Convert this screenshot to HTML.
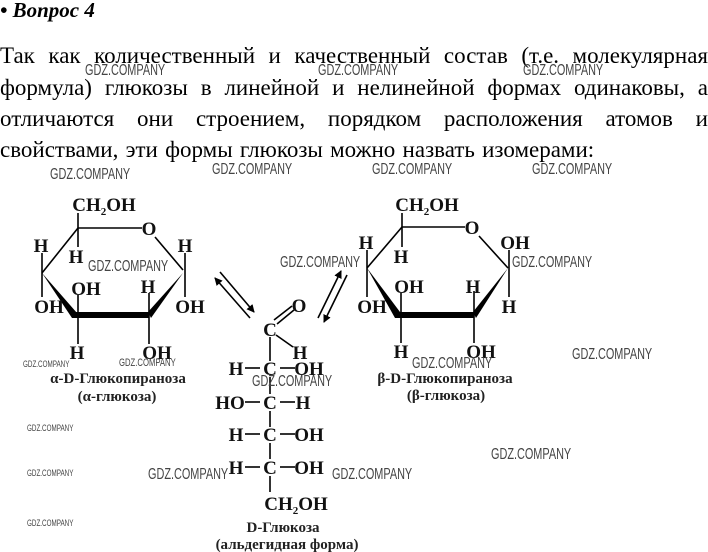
<!DOCTYPE html>
<html><head><meta charset="utf-8"><style>
html,body{margin:0;padding:0;background:#fff;}
body{width:708px;height:552px;overflow:hidden;position:relative;}
svg{position:absolute;left:0;top:0;}
.p{position:absolute;left:0;width:708px;font-family:"Liberation Serif",serif;font-size:23px;line-height:26px;text-align:justify;text-align-last:justify;white-space:nowrap;color:#000;}
.c{font-family:"Liberation Serif",serif;font-size:19px;font-weight:bold;fill:#111;text-anchor:middle;}
.s{font-size:11px;}
.l{font-family:"Liberation Serif",serif;font-size:15px;font-weight:bold;fill:#222;text-anchor:middle;}
.w{position:absolute;font-family:"Liberation Sans",sans-serif;font-size:16px;color:#444;transform:scaleX(0.68);transform-origin:0 0;white-space:nowrap;line-height:16px;}
.wt{position:absolute;font-family:"Liberation Sans",sans-serif;font-size:9px;color:#444;transform:scaleX(0.7);transform-origin:0 0;white-space:nowrap;line-height:9px;}
line,path{stroke:#000;stroke-width:1.6;fill:none;}
</style></head><body>
<div style="position:absolute;left:0;top:-2px;font-family:'Liberation Serif',serif;font-size:21px;font-weight:bold;font-style:italic;">• Вопрос 4</div>
<div class="p" style="top:43px">Так как количественный и качественный состав (т.е. молекулярная</div>
<div class="p" style="top:75px">формула) глюкозы в линейной и нелинейной формах одинаковы, а</div>
<div class="p" style="top:106px">отличаются они строением, порядком расположения атомов и</div>
<div class="p" style="top:137px;text-align:left;text-align-last:left;word-spacing:1.5px">свойствами, эти формы глюкозы можно назвать изомерами:</div>
<svg width="708" height="552" viewBox="0 0 708 552">
<defs>
<marker id="ah" markerWidth="8" markerHeight="8" refX="7" refY="4" orient="auto" markerUnits="userSpaceOnUse"><path d="M0,0 L8,4 L0,8 Z" style="fill:#000;stroke:none"/></marker>
</defs>

<!-- left ring -->
<text class="c" x="104" y="211">CH<tspan class="s" dy="4">2</tspan><tspan dy="-4">OH</tspan></text>
<line x1="78" y1="213" x2="78" y2="247"/>
<line x1="78" y1="228" x2="142" y2="228"/>
<text class="c" x="149" y="235">O</text>
<line x1="155" y1="237" x2="183" y2="270"/>
<line x1="78" y1="228" x2="42" y2="273"/>
<line x1="42" y1="253" x2="42" y2="297"/>
<line x1="185" y1="253" x2="185" y2="297"/>
<polygon points="42,273 77,313 77,318 72,318" fill="#000"/>
<rect x="75" y="312" width="74" height="6" fill="#000"/>
<polygon points="148,312 183,273 151,318" fill="#000"/>
<line x1="78" y1="295" x2="78" y2="344"/>
<line x1="149" y1="293" x2="149" y2="344"/>
<text class="c" x="41" y="252">H</text>
<text class="c" x="76" y="263">H</text>
<text class="c" x="185" y="252">H</text>
<text class="c" x="49" y="313">OH</text>
<text class="c" x="86" y="295">OH</text>
<text class="c" x="148" y="293">H</text>
<text class="c" x="190" y="313">OH</text>
<text class="c" x="77" y="359">H</text>
<text class="c" x="157" y="359">OH</text>
<text class="l" x="118" y="383">α-D-Глюкопираноза</text>
<text class="l" x="117" y="401">(α-глюкоза)</text>

<!-- arrows -->
<line x1="250" y1="318" x2="215" y2="278" marker-end="url(#ah)"/>
<line x1="220" y1="272" x2="254" y2="312" marker-end="url(#ah)"/>
<line x1="318" y1="318" x2="341" y2="271" marker-end="url(#ah)"/>
<line x1="347" y1="275" x2="324" y2="322" marker-end="url(#ah)"/>

<!-- chain -->
<text class="c" x="299" y="312">O</text>
<line x1="274" y1="320" x2="292" y2="306"/>
<line x1="277" y1="324" x2="294" y2="310"/>
<text class="c" x="270" y="336">C</text>
<line x1="276" y1="335" x2="293" y2="347"/>
<text class="c" x="300" y="359">H</text>
<line x1="270" y1="337" x2="270" y2="361"/>
<text class="c" x="270" y="375">C</text>
<text class="c" x="236" y="375">H</text>
<text class="c" x="309" y="375">OH</text>
<line x1="245" y1="368" x2="260" y2="368"/><line x1="280" y1="368" x2="295" y2="368"/>
<line x1="270" y1="377" x2="270" y2="394"/>
<text class="c" x="270" y="409">C</text>
<text class="c" x="230" y="409">HO</text>
<text class="c" x="303" y="409">H</text>
<line x1="245" y1="402" x2="260" y2="402"/><line x1="280" y1="402" x2="295" y2="402"/>
<line x1="270" y1="411" x2="270" y2="427"/>
<text class="c" x="270" y="441">C</text>
<text class="c" x="236" y="441">H</text>
<text class="c" x="309" y="441">OH</text>
<line x1="245" y1="434" x2="260" y2="434"/><line x1="280" y1="434" x2="295" y2="434"/>
<line x1="270" y1="443" x2="270" y2="459"/>
<text class="c" x="270" y="474">C</text>
<text class="c" x="236" y="474">H</text>
<text class="c" x="309" y="474">OH</text>
<line x1="245" y1="467" x2="260" y2="467"/><line x1="280" y1="467" x2="295" y2="467"/>
<line x1="270" y1="476" x2="270" y2="492"/>
<text class="c" x="296" y="510">CH<tspan class="s" dy="4">2</tspan><tspan dy="-4">OH</tspan></text>
<text class="l" x="283" y="532">D-Глюкоза</text>
<text class="l" x="287" y="549">(альдегидная форма)</text>

<!-- right ring -->
<text class="c" x="427" y="211">CH<tspan class="s" dy="4">2</tspan><tspan dy="-4">OH</tspan></text>
<line x1="402" y1="213" x2="402" y2="247"/>
<line x1="402" y1="227" x2="465" y2="227"/>
<text class="c" x="472" y="234">O</text>
<line x1="479" y1="236" x2="508" y2="268"/>
<line x1="402" y1="227" x2="367" y2="268"/>
<line x1="367" y1="250" x2="367" y2="297"/>
<line x1="509" y1="250" x2="509" y2="297"/>
<polygon points="367,268 400,312 400,318 395,318" fill="#000"/>
<rect x="398" y="312" width="76" height="6" fill="#000"/>
<polygon points="473,312 508,268 476,318" fill="#000"/>
<line x1="401" y1="293" x2="401" y2="343"/>
<line x1="474" y1="291" x2="474" y2="343"/>
<text class="c" x="366" y="249">H</text>
<text class="c" x="401" y="263">H</text>
<text class="c" x="515" y="249">OH</text>
<text class="c" x="372" y="313">OH</text>
<text class="c" x="409" y="293">OH</text>
<text class="c" x="473" y="293">H</text>
<text class="c" x="509" y="313">H</text>
<text class="c" x="401" y="358">H</text>
<text class="c" x="481" y="358">OH</text>
<text class="l" x="445" y="383">β-D-Глюкопираноза</text>
<text class="l" x="446" y="400">(β-глюкоза)</text>
</svg>

<div class="w" style="left:85px;top:63px">GDZ.COMPANY</div>
<div class="w" style="left:318px;top:63px">GDZ.COMPANY</div>
<div class="w" style="left:523px;top:63px">GDZ.COMPANY</div>
<div class="w" style="left:50px;top:167px">GDZ.COMPANY</div>
<div class="w" style="left:212px;top:162px">GDZ.COMPANY</div>
<div class="w" style="left:372px;top:162px">GDZ.COMPANY</div>
<div class="w" style="left:532px;top:162px">GDZ.COMPANY</div>
<div class="w" style="left:88px;top:259px">GDZ.COMPANY</div>
<div class="w" style="left:280px;top:255px">GDZ.COMPANY</div>
<div class="w" style="left:512px;top:255px">GDZ.COMPANY</div>
<div class="w" style="left:252px;top:374px">GDZ.COMPANY</div>
<div class="w" style="left:412px;top:356px">GDZ.COMPANY</div>
<div class="w" style="left:572px;top:347px">GDZ.COMPANY</div>
<div class="w" style="left:491px;top:447px">GDZ.COMPANY</div>
<div class="w" style="left:148px;top:467px">GDZ.COMPANY</div>
<div class="w" style="left:332px;top:467px">GDZ.COMPANY</div>
<div class="wt" style="left:23px;top:360px">GDZ.COMPANY</div>
<div class="wt" style="left:119px;top:359px;font-size:11px">GDZ.COMPANY</div>
<div class="wt" style="left:27px;top:424px">GDZ.COMPANY</div>
<div class="wt" style="left:27px;top:469px">GDZ.COMPANY</div>
<div class="wt" style="left:27px;top:519px">GDZ.COMPANY</div>
</body></html>
